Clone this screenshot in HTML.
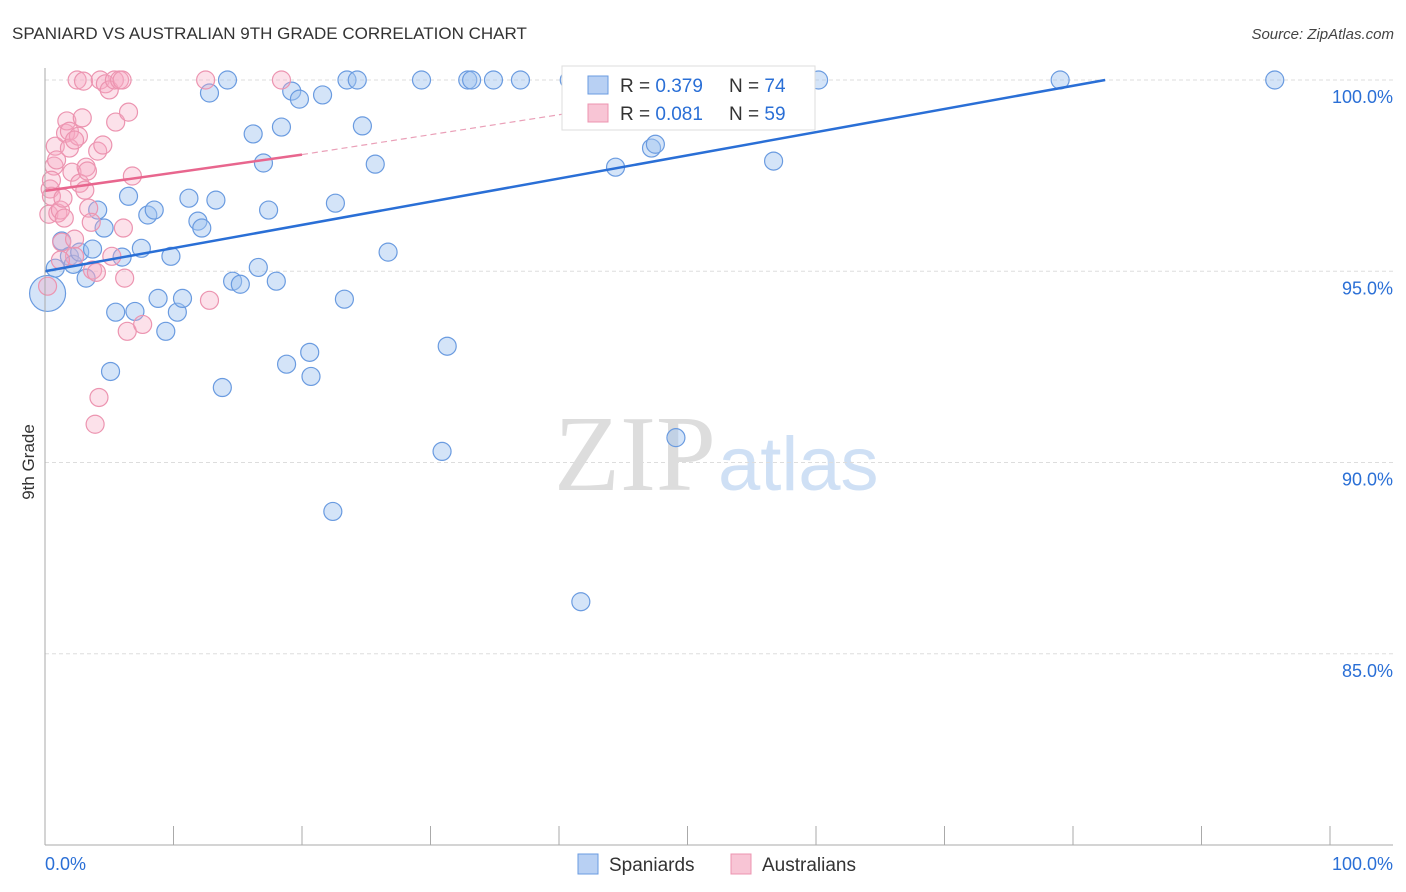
<!DOCTYPE html>
<html><head><meta charset="utf-8"><style>
body{margin:0;background:#fff;font-family:"Liberation Sans",sans-serif;}
#wrap{position:relative;width:1406px;height:892px;overflow:hidden}
</style></head><body>
<div id="wrap">
<svg id="svg" width="1406" height="892">
<text x="12" y="39" font-size="17" fill="#333">SPANIARD VS AUSTRALIAN 9TH GRADE CORRELATION CHART</text>
<text x="1394" y="39" font-size="15" font-style="italic" fill="#444" text-anchor="end">Source: ZipAtlas.com</text>
<text x="34" y="462" font-size="17" fill="#333" transform="rotate(-90 34 462)" text-anchor="middle">9th Grade</text>
<text x="716" y="490" font-size="108" fill="#ddd" text-anchor="end" font-family="Liberation Serif,serif">ZIP</text>
<text x="718" y="490" font-size="76" fill="#cfe0f5">atlas</text>
<g id="grid"></g><g id="pts"></g><g id="lines"></g><g id="axes"></g>
<g>
<rect x="562" y="66" width="253" height="64" fill="#fff" stroke="#ddd"/>
<rect x="588" y="76" width="20" height="18" fill="#b8d0f3" stroke="#6a9be0"/>
<text x="620" y="92" font-size="19" fill="#333">R = <tspan fill="#2a6fd6">0.379</tspan></text>
<text x="729" y="92" font-size="19" fill="#333">N = <tspan fill="#2a6fd6">74</tspan></text>
<rect x="588" y="104" width="20" height="18" fill="#f8c5d5" stroke="#ec94b0"/>
<text x="620" y="120" font-size="19" fill="#333">R = <tspan fill="#2a6fd6">0.081</tspan></text>
<text x="729" y="120" font-size="19" fill="#333">N = <tspan fill="#2a6fd6">59</tspan></text>
</g>
<g>
<rect x="578" y="854" width="20" height="20" fill="#b8d0f3" stroke="#6a9be0"/>
<text x="609" y="871" font-size="19" fill="#333">Spaniards</text>
<rect x="731" y="854" width="20" height="20" fill="#f8c5d5" stroke="#ec94b0"/>
<text x="762" y="871" font-size="19" fill="#333">Australians</text>
</g>
<text x="45" y="870" font-size="18" fill="#2a6fd6">0.0%</text>
<text x="1393" y="870" font-size="18" fill="#2a6fd6" text-anchor="end">100.0%</text>
</svg>
</div>
<script>
const blueX=[0.8,0.2,1.3,1.9,2.2,2.7,3.2,3.7,4.1,4.6,5.1,5.5,6.0,6.5,7.0,7.5,8.0,8.5,8.8,9.4,9.8,10.3,10.7,11.2,11.9,12.2,12.8,13.3,13.8,14.2,14.6,15.2,16.2,16.6,17.0,17.4,18.0,18.4,18.8,19.2,19.8,20.6,20.7,21.6,22.4,22.6,23.3,23.5,24.3,24.7,25.7,26.7,29.3,30.9,31.3,32.9,33.2,34.9,37.0,40.8,41.7,44.4,45.4,47.2,47.5,49.1,51.9,56.7,58.7,60.2,79.0,95.7];
const blueY=[95.08,94.42,95.79,95.39,95.18,95.50,94.82,95.58,96.60,96.13,92.38,93.93,95.37,96.96,93.95,95.60,96.47,96.60,94.29,93.43,95.39,93.93,94.29,96.91,96.31,96.13,99.66,96.86,91.96,100,94.74,94.66,98.59,95.10,97.83,96.60,94.74,98.77,92.57,99.71,99.50,92.88,92.25,99.61,88.72,96.78,94.27,100,100,98.80,97.80,95.50,100,90.29,93.04,100,100,100,100,100,86.36,97.72,100,98.22,98.32,90.65,100,97.88,100,100,100,100];
const pinkX=[0.2,0.3,0.4,0.5,0.7,0.8,0.9,1.0,1.2,1.3,1.5,1.6,1.7,1.9,1.9,2.1,2.3,2.3,2.5,2.6,2.7,2.9,3.0,3.2,3.3,3.4,3.6,3.7,4.0,4.1,4.2,4.3,4.5,4.7,5.0,5.2,5.4,5.5,5.8,6.0,6.1,6.2,6.4,6.5,6.8,7.6,12.5,12.8,18.4,3.9,0.5,1.2,1.4,3.1,2.3];
const pinkY=[94.61,96.49,97.15,96.96,97.75,98.27,97.91,96.52,96.60,95.76,96.39,98.61,98.93,98.66,98.22,97.59,95.39,95.84,100,98.53,97.30,99.01,99.97,97.72,97.62,96.65,96.28,95.03,94.97,98.14,91.70,100,98.30,99.90,99.74,95.39,100,98.90,100,100,96.13,94.82,93.43,99.16,97.49,93.61,100,94.24,100,91.0,97.38,95.29,96.91,97.12,98.43];
const yTicks=[100,95,90,85];
const xTicks=[0,10,20,30,40,50,60,70,80,90,100];
const blueFit=[[0,95.0],[82.5,100]];
const pinkFit=[[0,97.1],[20,98.05]];
const pinkDash=[[20,98.05],[44,99.3]];
const X=v=>45+v*12.85, Y=v=>80+(100-v)*38.25;
const NS="http://www.w3.org/2000/svg";
function mk(t,a,p){const e=document.createElementNS(NS,t);for(const k in a)e.setAttribute(k,a[k]);p.appendChild(e);return e;}
const grid=document.getElementById('grid'),pts=document.getElementById('pts'),lines=document.getElementById('lines'),axes=document.getElementById('axes');
yTicks.forEach(t=>{
 const l=mk('line',{x1:45,x2:1393,y1:Y(t),y2:Y(t),stroke:'#ddd','stroke-dasharray':'4,3'},grid);
 
 
 const tx=mk('text',{x:1393,y:Y(t)+23,'font-size':18,fill:'#2a6fd6','text-anchor':'end'},grid);
 tx.textContent=t.toFixed(1)+'%';
 
 
});
const ax=mk('line',{x1:45,x2:45,y1:68,y2:845,stroke:'#aaa'},axes);


const bx=mk('line',{x1:45,x2:1393,y1:845,y2:845,stroke:'#aaa'},axes);


xTicks.forEach(t=>{const l=mk('line',{x1:X(t),x2:X(t),y1:826,y2:845,stroke:'#aaa'},axes);
 
 });
blueX.forEach((x,i)=>{const c=mk('circle',{cx:X(x),cy:Y(blueY[i]),r:(i==1?18:9),fill:'rgba(160,195,240,0.45)',stroke:'#6a9be0','stroke-width':1.2},pts);
 
 });
pinkX.forEach((x,i)=>{const c=mk('circle',{cx:X(x),cy:Y(pinkY[i]),r:9,fill:'rgba(245,170,195,0.35)',stroke:'#ec94b0','stroke-width':1.2},pts);
 
 });
const bl=mk('line',{x1:X(blueFit[0][0]),y1:Y(blueFit[0][1]),x2:X(blueFit[1][0]),y2:Y(blueFit[1][1]),stroke:'#2a6fd6','stroke-width':2.5},lines);


const pl=mk('line',{x1:X(pinkFit[0][0]),y1:Y(pinkFit[0][1]),x2:X(pinkFit[1][0]),y2:Y(pinkFit[1][1]),stroke:'#e8668e','stroke-width':2.5},lines);


const pd=mk('line',{x1:X(pinkDash[0][0]),y1:Y(pinkDash[0][1]),x2:X(pinkDash[1][0]),y2:Y(pinkDash[1][1]),stroke:'#eaa0b8','stroke-width':1.2,'stroke-dasharray':'6,4'},lines);


</script>
</body></html>
